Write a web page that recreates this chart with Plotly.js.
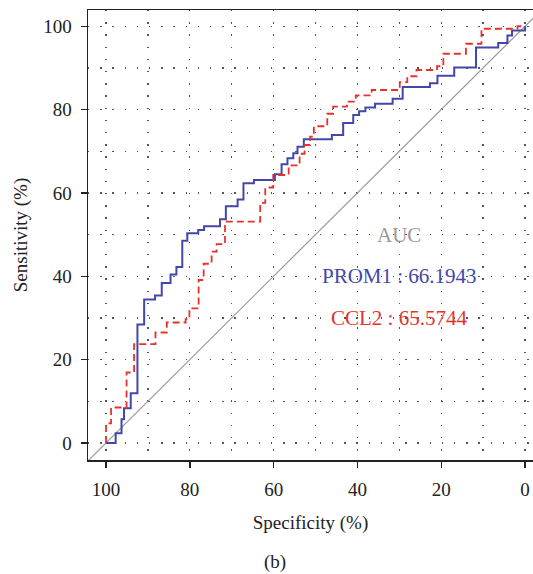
<!DOCTYPE html>
<html>
<head>
<meta charset="utf-8">
<script src="https://cdn.plot.ly/plotly-3.0.1.min.js"></script>
<style>html,body{margin:0;padding:0;background:#fff;}#chart{width:533px;height:574px;}</style>
</head>
<body>
<div id="chart"></div>
<script>
// PROM1 ROC step points (specificity %, sensitivity %), "hv" steps
const prom1Spec = [100, 97.7, 96.3, 95.7, 94.1, 92.5, 90.9, 88.3, 86.7, 84.6, 83.2, 81.8, 80.6, 78.0, 76.6, 72.8, 71.4, 68.6, 67.2, 64.7, 59.7, 58.1, 56.7, 55.3, 54.3, 52.8, 46.1, 43.4, 41.0, 39.6, 38.1, 35.8, 31.6, 29.2, 22.7, 20.9, 16.9, 11.7, 6.4, 4.2, 3.1, 0];
const prom1Sens = [0, 2.3, 5.7, 8.3, 11.9, 28.4, 34.4, 35.4, 38.4, 40.4, 42.2, 48.5, 50.3, 51.1, 52.0, 53.7, 56.8, 58.4, 62.3, 63.1, 64.5, 66.9, 68.3, 69.5, 71.1, 72.9, 73.9, 76.8, 78.7, 79.6, 80.5, 81.4, 82.6, 85.4, 86.3, 88.1, 90.1, 94.9, 96.0, 97.8, 99.0, 100];
// CCL2 ROC step points
const ccl2Spec = [100, 100, 98.8, 95.1, 93.3, 88.2, 85.5, 81.0, 80.1, 77.9, 76.7, 74.8, 73.6, 71.6, 63.2, 62.0, 60.1, 56.4, 53.8, 52.6, 51.3, 50.4, 47.2, 45.8, 42.5, 40.4, 36.6, 29.9, 28.1, 25.9, 21.0, 19.5, 14.1, 10.4, 1.8, 0];
const ccl2Sens = [0, 4.7, 8.5, 16.9, 23.7, 26.5, 28.9, 29.7, 32.3, 39.1, 43.0, 45.9, 47.7, 53.1, 57.6, 61.3, 64.3, 66.6, 69.4, 71.5, 73.5, 76.0, 79.0, 80.7, 81.9, 83.4, 84.7, 86.6, 88.0, 89.5, 90.4, 93.4, 95.8, 99.4, 100, 100];
// chance diagonal
const diagSpec = [110, -10];
const diagSens = [-10, 110];
// AUC labels
const aucTitle = "AUC";
const aucLabels = ["PROM1 : 66.1943", "CCL2 : 65.5744"];
const tickValues = [0, 20, 40, 60, 80, 100];

const blue = "#4347AA";
const red = "#E5332C";
const gridStyle = {showgrid: true, gridcolor: "#555", gridwidth: 1.3, griddash: "1.3px,10.9px"};
const serif = "Liberation Serif, Times New Roman, serif";

const traces = [
  {x: diagSpec, y: diagSens, mode: "lines", line: {color: "#9a9a9a", width: 1.2}, hoverinfo: "skip"},
  {x: prom1Spec, y: prom1Sens, mode: "lines", line: {color: blue, width: 2, shape: "hv"}, name: "PROM1"},
  {x: ccl2Spec, y: ccl2Sens, mode: "lines", line: {color: red, width: 1.8, shape: "hv", dash: "7px,4px"}, name: "CCL2"}
];

const axisCommon = {
  tickmode: "array", tickvals: tickValues, ticks: "outside", ticklen: 6, tickwidth: 1.4, tickcolor: "#222",
  showline: true, linecolor: "#222", linewidth: 1.5, zeroline: false,
  tickfont: {family: serif, size: 19, color: "#222"},
  ...gridStyle,
  minor: {tickmode: "linear", tick0: 0, dtick: 10, ticks: "", ...gridStyle}
};

const layout = {
  width: 533, height: 574,
  margin: {l: 88, r: 0, t: 10, b: 114},
  paper_bgcolor: "#fff", plot_bgcolor: "#fff",
  showlegend: false,
  xaxis: {...axisCommon, range: [104.3, -1.9], mirror: true, ticklabelstandoff: 6,
    title: {text: "Specificity (%)", font: {family: serif, size: 19, color: "#222"}, standoff: 16}},
  yaxis: {...axisCommon, range: [-4.1, 103.9], ticklabelstandoff: 5,
    title: {text: "Sensitivity (%)", font: {family: serif, size: 19, color: "#222"}, standoff: 10}},
  annotations: [
    {x: 30, y: 50, xref: "x", yref: "y", text: aucTitle, showarrow: false, font: {family: serif, size: 21, color: "#9a9a9a"}},
    {x: 30, y: 40, xref: "x", yref: "y", text: aucLabels[0], showarrow: false, font: {family: serif, size: 21, color: blue}},
    {x: 30, y: 30, xref: "x", yref: "y", text: aucLabels[1], showarrow: false, font: {family: serif, size: 21, color: red}},
    {x: (275 - 88) / 445, y: -(562 - 460) / 450, xref: "paper", yref: "paper", yanchor: "middle", text: "(b)", showarrow: false, font: {family: serif, size: 19, color: "#222"}}
  ]
};

Plotly.newPlot("chart", traces, layout, {staticPlot: true, displayModeBar: false});
</script>
</body>
</html>
